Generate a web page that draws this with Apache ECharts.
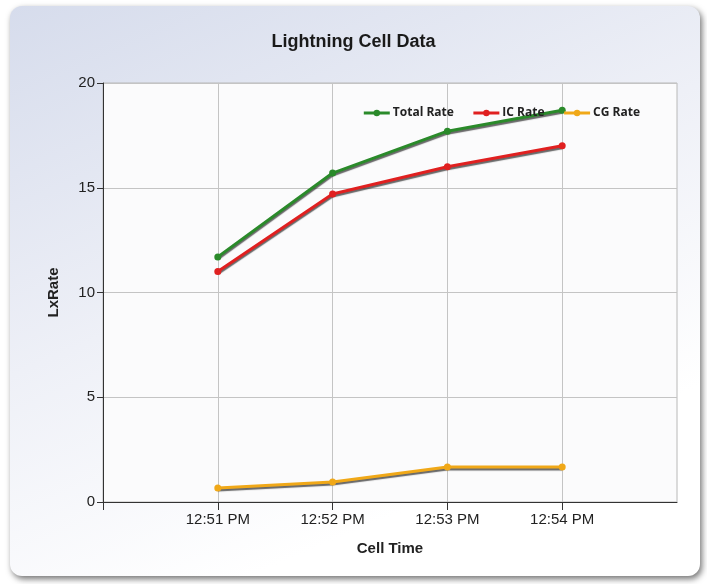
<!DOCTYPE html>
<html>
<head>
<meta charset="utf-8">
<script src="https://cdn.jsdelivr.net/npm/echarts@6/dist/echarts.min.js"></script>
<style>
html,body{margin:0;padding:0;background:#ffffff;}
#chart{width:707px;height:584px;}
</style>
</head>
<body>
<div id="chart"></div>
<script>
const times = ['12:51 PM', '12:52 PM', '12:53 PM', '12:54 PM'];
const totalRate = [11.7, 15.7, 17.7, 18.7];
const icRate = [11.0, 14.7, 16.0, 17.0];
const cgRate = [0.67, 0.96, 1.67, 1.67];
const yTicks = [0, 5, 10, 15, 20];

function minuteOf(t) { return parseInt(t.split(':')[1], 10); }
const mins = times.map(minuteOf);
const xMin = mins[0] - 1, xMax = mins[mins.length - 1] + 1;
function pairs(vals) { return vals.map((v, i) => [mins[i], v]); }
function label(m) {
  const t = times.find(s => minuteOf(s) === m);
  return t || '';
}

const chart = echarts.init(document.getElementById('chart'), null, {renderer: 'canvas'});
const lineShadow = {shadowColor: 'rgba(40,40,40,0.7)', shadowBlur: 1, shadowOffsetX: 0, shadowOffsetY: 2};
function mk(name, data, color) {
  return {
    name: name, type: 'line', data: pairs(data),
    symbol: 'circle', symbolSize: 7,
    lineStyle: Object.assign({width: 3, color: color}, lineShadow),
    itemStyle: {color: color},
    emphasis: {disabled: true}
  };
}
const fontNarrow = 'Liberation Sans Narrow, Liberation Sans, Arial';
chart.setOption({
  animation: false,
  backgroundColor: '#ffffff',
  graphic: [
    {type: 'rect', z: -10, left: 10, top: 6,
     shape: {width: 690, height: 570, r: 12},
     style: {
       fill: new echarts.graphic.LinearGradient(0, 0, 0.35, 1, [
         {offset: 0, color: '#d6dcec'},
         {offset: 0.55, color: '#eef0f7'},
         {offset: 1, color: '#ffffff'}
       ]),
       shadowColor: 'rgba(0,0,0,0.55)', shadowBlur: 6, shadowOffsetX: 2, shadowOffsetY: 3
     }}
  ],
  title: {
    text: 'Lightning Cell Data', left: 'center', top: 28,
    textStyle: {fontFamily: fontNarrow, fontSize: 18, fontWeight: 'bold', color: '#1a1a1a'}
  },
  legend: {
    right: 62, top: 102, itemWidth: 26, itemHeight: 8, itemGap: 18,
    itemStyle: {borderWidth: 0},
    lineStyle: {width: 3, shadowBlur: 0, shadowOffsetY: 0, shadowColor: 'transparent'},
    textStyle: {fontFamily: 'Open Sans, Noto Sans', fontSize: 12, fontWeight: 'bold', color: '#222', padding: [0, 0, 0, -2]},
    data: ['Total Rate', 'IC Rate', 'CG Rate']
  },
  grid: {left: 103, right: 30, top: 83, bottom: 82, show: true, backgroundColor: '#fbfbfc', borderColor: '#b8b8b8', borderWidth: 1},
  xAxis: {
    type: 'value', min: xMin, max: xMax, interval: 1,
    name: 'Cell Time', nameLocation: 'middle', nameGap: 39,
    nameTextStyle: {fontFamily: fontNarrow, fontSize: 15, fontWeight: 'bold', color: '#222'},
    axisLine: {show: true, onZero: false, lineStyle: {color: '#333', width: 1}},
    axisTick: {show: true, length: 8, customValues: [xMin].concat(mins), lineStyle: {color: '#333'}},
    axisLabel: {formatter: v => label(v), margin: 10, fontFamily: fontNarrow, fontSize: 15, color: '#222'},
    splitLine: {show: true, lineStyle: {color: '#c4c4c4', width: 1}}
  },
  yAxis: {
    type: 'value', min: yTicks[0], max: yTicks[yTicks.length - 1], interval: yTicks[1] - yTicks[0],
    name: 'LxRate', nameLocation: 'middle', nameGap: 42, nameRotate: 90,
    nameTextStyle: {fontFamily: fontNarrow, fontSize: 15, fontWeight: 'bold', color: '#222'},
    axisLine: {show: true, lineStyle: {color: '#333', width: 1}},
    axisTick: {show: true, length: 6, lineStyle: {color: '#333'}},
    axisLabel: {margin: 8, fontFamily: fontNarrow, fontSize: 15, color: '#222'},
    splitLine: {show: true, lineStyle: {color: '#c4c4c4', width: 1}}
  },
  series: [
    mk('Total Rate', totalRate, '#2a8a2a'),
    mk('IC Rate', icRate, '#e02020'),
    mk('CG Rate', cgRate, '#f0a818')
  ]
});
</script>
</body>
</html>
